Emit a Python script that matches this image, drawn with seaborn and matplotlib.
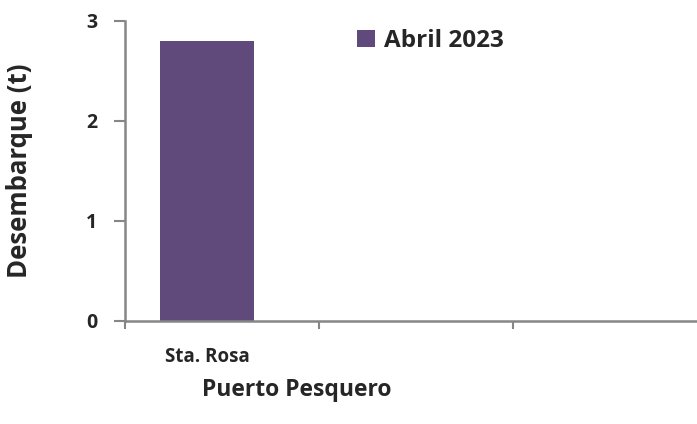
import numpy as np
import pandas as pd
import matplotlib
matplotlib.use("Agg")
import matplotlib.pyplot as plt
import seaborn as sns

# datos
puertos = ["Sta. Rosa", "  ", "   "]
desembarque = [2.8, np.nan, np.nan]
serie = "Abril 2023"
color_barra = "#604a7b"
gris = "#868686"

df = pd.DataFrame({"puerto": puertos, "t": desembarque})

sns.set_style("white")
plt.rcParams["font.family"] = ["Open Sans", "DejaVu Sans"]
plt.rcParams["font.weight"] = "bold"

fig = plt.figure(figsize=(6.97, 4.24), dpi=100)
ax = fig.add_axes([125 / 697, 103 / 424, 572 / 697, 300 / 424])

sns.barplot(data=df, x="puerto", y="t", color=color_barra, width=0.485,
            label=serie, ax=ax, saturation=1, linewidth=0)

ax.set_xlim(-0.423, 2.526)
ax.set_ylim(0, 3)
ax.set_yticks([0, 1, 2, 3])
ax.set_yticklabels(["0", "1", "2", "3"], fontsize=14, fontweight="bold")
ax.set_xticks([0])
ax.set_xticklabels([puertos[0]], fontsize=13.5, fontweight="bold")
ax.set_xticks([-0.423, 0.577, 1.577], minor=True)
ax.tick_params(axis="x", which="major", length=0, pad=19)
ax.tick_params(axis="x", which="minor", bottom=True, length=6, width=1.5, color=gris, direction="out")
ax.tick_params(axis="y", left=True, length=8, width=1.5, color=gris, direction="out", pad=12)

for s in ["top", "right"]:
    ax.spines[s].set_visible(False)
for s in ["left", "bottom"]:
    ax.spines[s].set_color(gris)
    ax.spines[s].set_linewidth(1.8)

ax.set_xlabel("Puerto Pesquero", fontsize=16.5, fontweight="bold", va="center")
ax.set_ylabel("Desembarque (t)", fontsize=18.5, fontweight="bold", va="center")
ax.xaxis.set_label_coords((297 - 125) / 572, (321 - 390) / 300)
ax.yaxis.set_label_coords((19 - 125) / 572, 0.5)

ax.legend(loc="center left", bbox_to_anchor=(357 / 697, 1 - 41 / 424), bbox_transform=fig.transFigure,
          frameon=False, handlelength=0.75, handleheight=0.75, handletextpad=0.35,
          borderpad=0, borderaxespad=0, prop={"size": 17.5, "weight": "bold"})

fig.savefig("out.png", dpi=100)
